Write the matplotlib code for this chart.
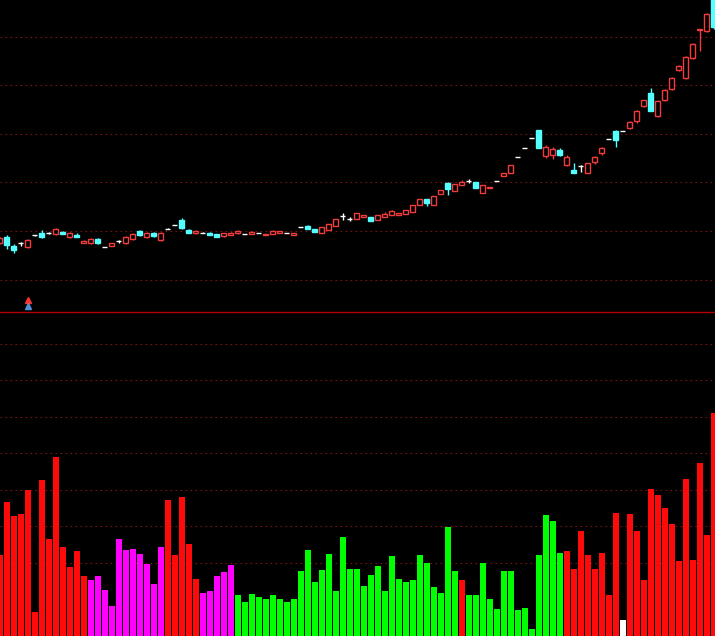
import matplotlib.pyplot as plt
import numpy as np

# daily candles (price units)
opens = [11.9, 12.5, 11.6, 11.9, 11.5, 12.7, 12.9, 12.9, 12.8, 13.0,
         12.5, 12.7, 11.9, 11.9, 12.3, 11.5, 11.6, 12.1, 11.9, 12.3,
         13.1, 12.5, 12.9, 12.2, 13.3, 13.7, 14.2, 13.2, 12.9, 12.9,
         12.9, 12.8, 12.6, 12.7, 12.9, 12.8, 12.8, 12.9, 12.7, 12.8,
         12.9, 12.9, 12.7, 13.5, 13.6, 13.3, 12.9, 13.2, 13.6, 14.6,
         14.3, 14.3, 14.5, 14.5, 14.2, 14.5, 14.7, 14.7, 14.8, 15.0,
         15.7, 16.3, 15.7, 16.8, 17.9, 17.1, 17.7, 18.1, 18.0, 16.9,
         17.4, 18.1, 18.6, 18.9, 20.5, 21.4, 22.4, 23.2, 20.6, 20.7,
         21.2, 19.7, 19.2, 19.6, 18.9, 20.0, 20.9, 22.3, 23.1, 23.1,
         23.4, 24.1, 25.6, 26.9, 24.6, 26.2, 27.3, 29.2, 28.4, 30.4,
         33.2, 33.1, 36.5]
highs = [12.5, 12.7, 11.8, 12.0, 12.3, 12.7, 13.2, 13.0, 13.4, 13.1,
         13.0, 12.9, 12.2, 12.4, 12.4, 11.5, 11.9, 12.2, 12.6, 12.9,
         13.2, 13.0, 13.0, 13.0, 13.4, 13.7, 14.4, 13.3, 13.2, 13.0,
         13.0, 12.8, 12.9, 13.0, 13.2, 12.8, 13.1, 12.9, 12.8, 13.2,
         13.1, 12.9, 12.9, 13.5, 13.7, 13.3, 13.5, 13.8, 14.3, 14.9,
         14.5, 14.9, 14.7, 14.5, 14.7, 15.0, 15.2, 14.9, 15.2, 15.7,
         16.3, 16.3, 16.6, 17.2, 18.0, 17.8, 18.2, 18.3, 18.0, 17.7,
         17.5, 18.1, 18.9, 19.7, 20.5, 21.4, 22.4, 23.2, 21.7, 21.5,
         21.4, 20.7, 19.9, 19.7, 19.9, 20.6, 21.5, 22.3, 23.2, 23.1,
         24.1, 25.2, 26.2, 27.4, 26.2, 27.3, 28.5, 29.7, 30.6, 31.9,
         33.3, 34.9, 36.6]
lows = [11.8, 11.3, 10.9, 11.6, 11.4, 12.6, 12.4, 12.8, 12.7, 12.8,
        12.4, 12.5, 11.9, 11.8, 11.8, 11.5, 11.6, 11.9, 11.8, 12.2,
        12.6, 12.4, 12.5, 12.1, 13.3, 13.7, 13.3, 12.9, 12.8, 12.9,
        12.7, 12.5, 12.5, 12.7, 12.8, 12.8, 12.8, 12.9, 12.7, 12.8,
        12.9, 12.9, 12.7, 13.5, 13.3, 13.0, 12.9, 13.2, 13.6, 14.2,
        14.1, 14.3, 14.5, 14.1, 14.2, 14.5, 14.7, 14.7, 14.8, 15.0,
        15.7, 15.6, 15.7, 16.8, 16.7, 17.1, 17.7, 17.9, 17.4, 16.9,
        17.4, 18.1, 18.6, 18.9, 20.5, 21.4, 22.4, 21.4, 20.4, 20.3,
        20.6, 19.6, 18.9, 19.0, 18.9, 19.8, 20.7, 22.3, 21.5, 23.1,
        23.3, 23.9, 25.5, 25.1, 24.5, 26.1, 27.2, 29.1, 28.3, 30.3,
        31.1, 33.0, 33.3]
closes = [12.4, 11.7, 11.2, 11.9, 12.2, 12.7, 12.5, 12.9, 13.3, 12.8,
          12.9, 12.5, 12.1, 12.3, 11.9, 11.5, 11.9, 12.1, 12.5, 12.8,
          12.7, 12.9, 12.6, 12.9, 13.3, 13.7, 13.4, 12.9, 13.1, 12.9,
          12.7, 12.5, 12.9, 12.9, 13.1, 12.8, 13.0, 12.9, 12.8, 13.1,
          13.1, 12.9, 12.9, 13.5, 13.3, 13.0, 13.5, 13.8, 14.3, 14.6,
          14.3, 14.9, 14.7, 14.1, 14.7, 14.8, 15.1, 14.9, 15.2, 15.7,
          16.3, 15.9, 16.6, 17.2, 17.3, 17.8, 18.0, 18.1, 17.4, 17.7,
          17.5, 18.1, 18.9, 19.7, 20.5, 21.4, 22.4, 21.4, 21.5, 21.3,
          20.7, 20.5, 18.9, 19.6, 19.9, 20.5, 21.4, 22.3, 22.2, 23.1,
          24.0, 25.1, 26.2, 25.1, 26.1, 27.2, 28.4, 29.6, 30.5, 31.8,
          33.3, 34.8, 33.5]

# lower indicator: bar height and state (R strong, M weak, G down, W neutral)
ind_vals = [2.23, 3.67, 3.29, 3.35, 4.00, 0.67, 4.28, 2.66, 4.90, 2.45,
            1.90, 2.34, 1.65, 1.54, 1.65, 1.27, 0.81, 2.66, 2.36, 2.39,
            2.25, 1.98, 1.43, 2.45, 3.73, 2.23, 3.81, 2.53, 1.57, 1.19,
            1.24, 1.63, 1.76, 1.95, 1.11, 0.92, 1.16, 1.08, 1.02, 1.11,
            1.02, 0.94, 1.00, 1.79, 2.36, 1.49, 1.82, 2.25, 1.24, 2.72,
            1.84, 1.84, 1.38, 1.68, 1.93, 1.24, 2.20, 1.57, 1.49, 1.52,
            2.23, 2.01, 1.35, 1.19, 2.99, 1.79, 1.54, 1.11, 1.13, 2.01,
            1.00, 0.75, 1.79, 1.79, 0.70, 0.78, 0.20, 2.23, 3.32, 3.16,
            2.28, 2.34, 1.84, 2.88, 2.23, 1.84, 2.28, 1.13, 3.37, 0.45,
            3.35, 2.88, 1.52, 4.03, 3.85, 3.51, 3.07, 2.06, 4.30, 2.09,
            4.74, 2.77, 6.10]
ind_state = (['R'] * 13 + ['M'] * 11 + ['R'] * 5 + ['M'] * 5 + ['G'] * 32
             + ['R'] + ['G'] * 14 + ['R'] * 8 + ['W'] + ['R'] * 13)

signal_day = 4

RED = '#f03c3c'
CYAN = '#54ffff'
GRID = '#7a1414'
state_col = {'R': '#ff0a0a', 'M': '#ff00ff', 'G': '#00ff00', 'W': '#ffffff'}

o = np.array(opens)
h = np.array(highs)
l = np.array(lows)
c = np.array(closes)
x = np.arange(len(c))

fig = plt.figure(figsize=(7.15, 6.36), dpi=100, facecolor='black')
ax1 = fig.add_axes([0, 0.5094, 1, 0.4906], facecolor='black')
ax2 = fig.add_axes([0, 0, 1, 0.5094], facecolor='black')

# candles
up = c > o
dn = c < o
fl = c == o
top = np.maximum(o, c)
bot = np.minimum(o, c)
cols = np.where(up, RED, np.where(dn, CYAN, 'white'))
ax1.vlines(x, top, h, colors=cols, lw=1, zorder=3)
ax1.vlines(x, l, bot, colors=cols, lw=1, zorder=3)
ax1.bar(x[up], (c - o)[up], bottom=o[up], width=0.65, facecolor='black',
        edgecolor=RED, lw=1, zorder=4)
ax1.bar(x[dn], (o - c)[dn], bottom=c[dn], width=0.65, facecolor=CYAN,
        edgecolor=CYAN, lw=1, zorder=4)
ax1.hlines(o[fl], x[fl] - 0.33, x[fl] + 0.33, colors='white', lw=1, zorder=4)

# buy signal mark
ax1.plot(signal_day, 6.2, marker='^', color='#ff3030', ms=5, zorder=5)
ax1.plot(signal_day, 5.6, marker='^', color='#4f8fd8', ms=5, zorder=5)

ax1.set_xlim(0.07, 102.21)
ax1.set_ylim(5.0, 36.2)
ax1.set_yticks(8.25 + 4.86 * np.arange(6))

# indicator bars
ax2.bar(x, ind_vals, width=0.86, color=[state_col[s] for s in ind_state],
        edgecolor='none', zorder=3)
ax2.set_xlim(0.07, 102.21)
ax2.set_ylim(0, 8.87)
ax2.set_yticks(np.arange(2, 9))

for ax in (ax1, ax2):
    ax.set_xticks([])
    ax.tick_params(length=0, labelleft=False, labelbottom=False)
    ax.grid(axis='y', color=GRID, linestyle=(0, (1.5, 3)), lw=0.8, zorder=0)
    for s in ax.spines.values():
        s.set_visible(False)

ax2.spines['top'].set_visible(True)
ax2.spines['top'].set_color('#b40000')
ax2.spines['top'].set_linewidth(1)

fig.savefig('out.png', dpi=100, facecolor='black')
